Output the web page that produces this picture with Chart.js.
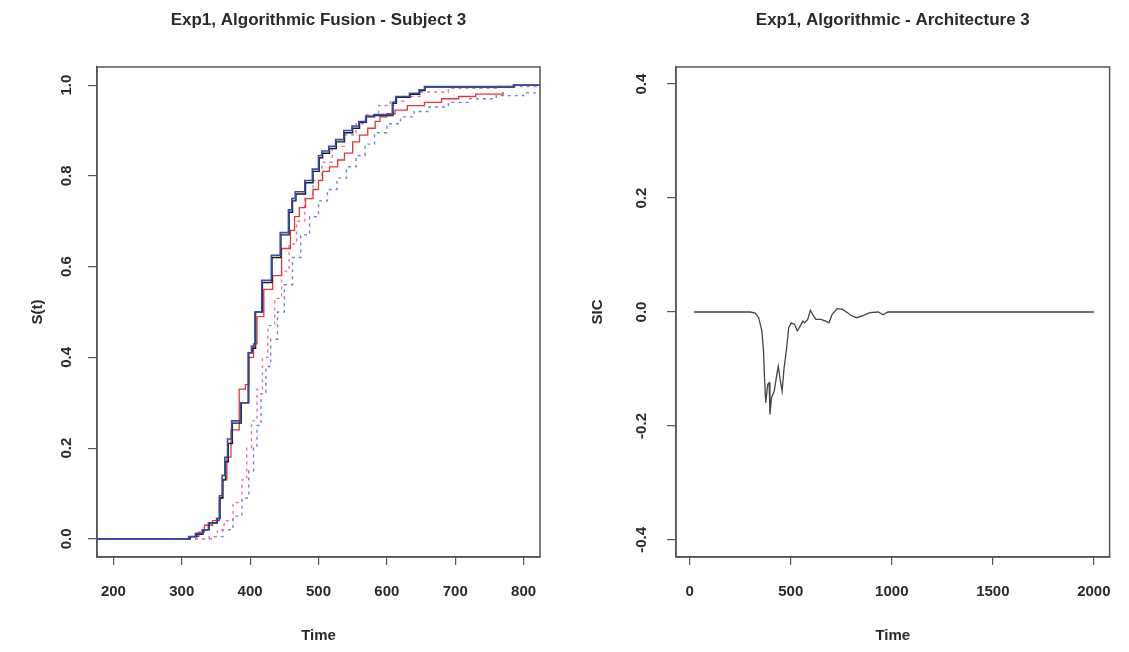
<!DOCTYPE html>
<html>
<head>
<meta charset="utf-8">
<script src="https://cdn.jsdelivr.net/npm/chart.js@4"></script>
<style>
  body { margin: 0; background: #fff; }
  #wrap { position: relative; width: 1129px; height: 652px; }
  #left { position: absolute; left: 0; top: 0; }
  #right { position: absolute; left: 565px; top: 0; }
</style>
</head>
<body>
<div id="wrap">
  <canvas id="left" width="565" height="652"></canvas>
  <canvas id="right" width="564" height="652"></canvas>
</div>
<script>
// ---- left panel: survivor curves, Subject 3 ----
const leftXTicks = [200, 300, 400, 500, 600, 700, 800];
const leftYTicks = [0, 0.2, 0.4, 0.6, 0.8, 1.0];

const blueT = [176, 303, 310, 320, 330, 339, 351, 355, 359, 363, 367, 373, 386, 397, 402, 407, 417, 431, 444, 456, 461, 466, 480, 491, 500, 505, 515, 525, 537, 549, 559, 569, 581, 608, 613, 633, 647, 655, 785, 824];
const blueS = [0, 0, 0.005, 0.012, 0.02, 0.035, 0.045, 0.095, 0.14, 0.18, 0.22, 0.26, 0.3, 0.41, 0.425, 0.5, 0.57, 0.625, 0.675, 0.725, 0.75, 0.765, 0.79, 0.815, 0.845, 0.855, 0.865, 0.88, 0.9, 0.91, 0.92, 0.932, 0.935, 0.962, 0.975, 0.982, 0.99, 0.997, 1.0, 1.0];

const blackT = [176, 305, 312, 322, 331, 340, 352, 356, 360, 364, 368, 374, 387, 398, 403, 408, 418, 432, 445, 457, 462, 467, 481, 492, 501, 506, 516, 526, 538, 550, 560, 570, 582, 609, 614, 634, 648, 656, 786, 824];
const blackS = [0, 0, 0.005, 0.01, 0.02, 0.035, 0.045, 0.09, 0.13, 0.17, 0.21, 0.255, 0.3, 0.41, 0.42, 0.5, 0.565, 0.62, 0.67, 0.72, 0.745, 0.76, 0.785, 0.81, 0.84, 0.85, 0.86, 0.875, 0.895, 0.905, 0.918, 0.93, 0.933, 0.96, 0.973, 0.98, 0.988, 0.996, 1.0, 1.0];

const redT = [176, 305, 312, 325, 333, 345, 355, 360, 366, 372, 384, 393, 398, 405, 410, 420, 433, 446, 459, 465, 472, 481, 492, 500, 506, 516, 528, 538, 550, 560, 572, 583, 590, 600, 612, 630, 655, 680, 705, 730, 770];
const redS = [0, 0, 0.005, 0.015, 0.03, 0.04, 0.09, 0.13, 0.18, 0.24, 0.33, 0.34, 0.4, 0.43, 0.49, 0.55, 0.58, 0.64, 0.68, 0.71, 0.73, 0.75, 0.77, 0.79, 0.81, 0.82, 0.835, 0.85, 0.875, 0.89, 0.905, 0.92, 0.93, 0.937, 0.945, 0.955, 0.962, 0.97, 0.975, 0.98, 0.985];

const pinkDotT = [176, 332, 340, 352, 362, 375, 388, 395, 402, 410, 418, 426, 436, 446, 457, 468, 480, 492, 505, 520, 538, 555, 570, 588, 605, 625, 650, 690, 760, 824];
const pinkDotS = [0, 0, 0.005, 0.02, 0.04, 0.08, 0.13, 0.2, 0.26, 0.33, 0.4, 0.47, 0.53, 0.59, 0.65, 0.7, 0.75, 0.79, 0.83, 0.865, 0.89, 0.915, 0.935, 0.955, 0.965, 0.975, 0.985, 0.993, 0.997, 1.0];

const blueDotT = [176, 338, 345, 360, 375, 388, 398, 405, 410, 416, 423, 430, 440, 450, 462, 474, 487, 500, 513, 527, 541, 555, 568, 582, 600, 620, 640, 660, 690, 720, 760, 800, 824];
const blueDotS = [0, 0, 0.005, 0.02, 0.05, 0.09, 0.15, 0.2, 0.25, 0.32, 0.38, 0.44, 0.5, 0.56, 0.62, 0.67, 0.71, 0.745, 0.77, 0.795, 0.82, 0.845, 0.87, 0.895, 0.915, 0.93, 0.942, 0.952, 0.962, 0.97, 0.977, 0.983, 0.985];

// ---- right panel: SIC ----
const rightXTicks = [0, 500, 1000, 1500, 2000];
const rightYTicks = [-0.4, -0.2, 0, 0.2, 0.4];

const sicT = [20, 300, 324, 341, 357, 365, 370, 376, 386, 393, 397, 405, 418, 430, 438, 446, 457, 467, 478, 490, 503, 519, 532, 543, 560, 568, 584, 597, 608, 624, 649, 673, 689, 705, 730, 754, 779, 803, 827, 860, 892, 933, 957, 981, 1006, 2000];
const sicV = [0, 0, -0.002, -0.01, -0.033, -0.068, -0.115, -0.159, -0.127, -0.124, -0.18, -0.15, -0.139, -0.112, -0.095, -0.115, -0.139, -0.098, -0.068, -0.027, -0.019, -0.022, -0.033, -0.027, -0.016, -0.019, -0.013, 0.003, -0.004, -0.013, -0.013, -0.016, -0.019, -0.004, 0.006, 0.005, -0.001, -0.007, -0.01, -0.006, -0.001, 0, -0.005, 0, 0, 0];

const FONT = '"Liberation Sans", Arial, sans-serif';
const INK = '#2a2a2a';
const AXIS = '#555';

function pts(xs, ys) {
    return xs.map((x, i) => ({x: x, y: ys[i]}));
}

// R-like box, bold main title and vertical y tick labels
const rStyle = {
    id: 'rstyle',
    afterDraw(chart, args, opts) {
        const ctx = chart.ctx;
        const a = chart.chartArea;
        ctx.save();
        ctx.strokeStyle = AXIS;
        ctx.lineWidth = 1.5;
        ctx.strokeRect(a.left, a.top, a.right - a.left, a.bottom - a.top);

        ctx.fillStyle = INK;
        ctx.textAlign = 'center';
        ctx.textBaseline = 'middle';
        ctx.font = 'bold 17px ' + FONT;
        ctx.fillText(opts.title, (a.left + a.right) / 2, 20);

        const ys = chart.scales.y;
        ctx.font = 'bold 15px ' + FONT;
        ys.ticks.forEach(t => {
            ctx.save();
            ctx.translate(opts.labelX, ys.getPixelForValue(t.value));
            ctx.rotate(-Math.PI / 2);
            ctx.fillText(t.value.toFixed(1), 0, 0);
            ctx.restore();
        });
        ctx.restore();
    }
};

function makeOptions(o) {
    const labelFont = {family: FONT, size: 15, weight: 'bold'};
    return {
        responsive: false,
        animation: false,
        layout: {padding: {left: 0, top: 67, right: o.padRight, bottom: 0}},
        plugins: {
            legend: {display: false},
            tooltip: {enabled: false},
            rstyle: {title: o.title, labelX: o.labelX}
        },
        elements: {point: {radius: 0}},
        scales: {
            x: {
                type: 'linear',
                min: o.xMin,
                max: o.xMax,
                afterBuildTicks: s => { s.ticks = o.xTicks.map(v => ({value: v})); },
                afterFit: s => { s.height = 95; },
                ticks: {
                    color: INK,
                    padding: 18,
                    maxRotation: 0,
                    font: labelFont,
                    callback: v => String(v)
                },
                grid: {drawOnChartArea: false, drawTicks: true, tickLength: 8, color: AXIS, lineWidth: 1.2},
                border: {display: true, color: AXIS, width: 1.5},
                title: {display: true, text: 'Time', color: INK, font: labelFont, padding: {top: 0, bottom: 7}}
            },
            y: {
                type: 'linear',
                min: o.yMin,
                max: o.yMax,
                afterBuildTicks: s => { s.ticks = o.yTicks.map(v => ({value: v})); },
                afterFit: s => { s.width = o.yWidth; },
                ticks: {display: false},
                grid: {drawOnChartArea: false, drawTicks: true, tickLength: 9, color: AXIS, lineWidth: 1.2},
                border: {display: true, color: AXIS, width: 1.5},
                title: {display: true, text: o.yTitle, color: INK, font: labelFont, padding: {top: o.yTitlePad, bottom: 0}}
            }
        }
    };
}

function stepLine(data, color, width, dash) {
    return {
        data: data,
        borderColor: color,
        borderWidth: width,
        borderDash: dash || [],
        stepped: true,
        fill: false
    };
}

new Chart(document.getElementById('left'), {
    type: 'line',
    data: {
        datasets: [
            stepLine(pts(blueT, blueS), 'rgb(55,75,175)', 1.6),
            stepLine(pts(blackT, blackS), '#1a1a1a', 1.4),
            stepLine(pts(redT, redS), 'rgb(228,55,55)', 1.3),
            stepLine(pts(pinkDotT, pinkDotS), 'rgb(215,125,155)', 1.4, [3, 4]),
            stepLine(pts(blueDotT, blueDotS), 'rgb(120,130,195)', 1.4, [3, 4])
        ]
    },
    options: makeOptions({
        title: 'Exp1, Algorithmic Fusion - Subject 3',
        labelX: 67, padRight: 25, yWidth: 97, yTitle: 'S(t)', yTitlePad: 29,
        xMin: 176, xMax: 824, yMin: -0.04, yMax: 1.04,
        xTicks: leftXTicks, yTicks: leftYTicks
    }),
    plugins: [rStyle]
});

new Chart(document.getElementById('right'), {
    type: 'line',
    data: {
        datasets: [{
            data: pts(sicT, sicV),
            borderColor: '#444',
            borderWidth: 1.3,
            tension: 0,
            fill: false
        }]
    },
    options: makeOptions({
        title: 'Exp1, Algorithmic - Architecture 3',
        labelX: 77, padRight: 13, yWidth: 111, yTitle: 'SIC', yTitlePad: 24,
        xMin: -68, xMax: 2078, yMin: -0.43, yMax: 0.43,
        xTicks: rightXTicks, yTicks: rightYTicks
    }),
    plugins: [rStyle]
});
</script>
</body>
</html>
